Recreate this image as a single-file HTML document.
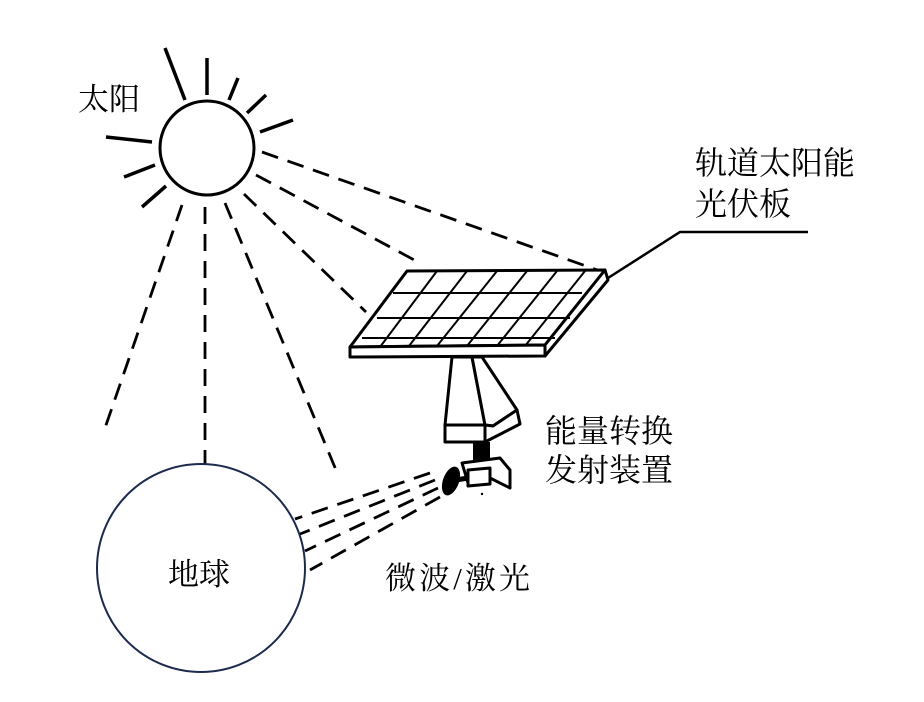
<!DOCTYPE html>
<html><head><meta charset="utf-8"><style>
body{margin:0;background:#fff;}
svg{display:block}
text{font-family:"Liberation Serif","Noto Serif CJK SC","Noto Sans CJK SC",serif;fill:#000}
</style></head><body>
<svg width="924" height="702" viewBox="0 0 924 702" xmlns="http://www.w3.org/2000/svg">
<g stroke="#000" stroke-width="3.5" fill="none" stroke-linecap="butt">
<circle cx="207" cy="148" r="47" stroke-width="3"/>
<line x1="165" y1="48" x2="185" y2="100"/>
<line x1="207" y1="58" x2="207" y2="95"/>
<line x1="238" y1="78" x2="229" y2="100"/>
<line x1="266" y1="95" x2="247" y2="113"/>
<line x1="293" y1="120" x2="260" y2="132"/>
<line x1="106" y1="137" x2="152" y2="142"/>
<line x1="124" y1="177" x2="155" y2="165"/>
<line x1="142" y1="207" x2="166" y2="186"/>
<g stroke-dasharray="17,10" stroke-width="2.8">
<line x1="262" y1="152" x2="603" y2="272"/>
<line x1="256" y1="175" x2="418" y2="262"/>
<line x1="244" y1="194" x2="366" y2="312"/>
<line x1="225" y1="203" x2="336" y2="470"/>
<line x1="205" y1="207" x2="205" y2="465"/>
<line x1="182" y1="205" x2="105" y2="428"/>
<line x1="430" y1="473" x2="295" y2="519"/>
<line x1="435" y1="480" x2="300" y2="534"/>
<line x1="438" y1="488" x2="305" y2="551"/>
<line x1="440" y1="497" x2="310" y2="570"/>
</g>
</g>
<circle cx="201" cy="568" r="104" fill="none" stroke="#1c2a4e" stroke-width="2"/>
<g stroke="#000" fill="#fff" stroke-width="3" stroke-linejoin="round">
<polygon points="407,271 605,270 545,345 350,347"/>
<polygon points="350,347 545,345 545,356 350,357"/>
<polygon points="605,270 608,280 545,356 545,345"/>
</g>
<g stroke="#000" stroke-width="2">
<line x1="393" y1="293" x2="582" y2="293"/>
<line x1="377" y1="318" x2="570" y2="318"/>
<line x1="362" y1="338" x2="555" y2="338"/>
<line x1="437" y1="271" x2="380" y2="347"/>
<line x1="467" y1="271" x2="409" y2="346"/>
<line x1="497" y1="271" x2="437" y2="346"/>
<line x1="527" y1="271" x2="467" y2="346"/>
<line x1="557" y1="271" x2="497" y2="346"/>
<line x1="585" y1="271" x2="525" y2="346"/>
</g>
<g stroke="#000" fill="#fff" stroke-width="3" stroke-linejoin="round">
<polygon points="452,357 472,357 485,425 445,425"/>
<polygon points="472,357 482,357 517,410 493,426 485,425"/>
<polygon points="445,425 485,425 485,442 445,442"/>
<polygon points="485,425 493,426 517,410 520,424 485,442"/>
</g>
<rect x="473" y="442" width="17" height="20" fill="#000"/>
<g stroke="#000" fill="#fff" stroke-width="3" stroke-linejoin="round">
<polygon points="462,463 500,458 510,470 510,488 490,478 468,483"/>
<polygon points="468,470 490,468 490,484 468,486"/>
</g>
<line x1="450" y1="481" x2="468" y2="478" stroke="#000" stroke-width="5"/>
<ellipse cx="451" cy="481" rx="8" ry="15" transform="rotate(20 451 481)" fill="#000"/>
<circle cx="482" cy="494" r="1.2" fill="#000"/>
<polyline points="608,278 680,232 808,232" fill="none" stroke="#000" stroke-width="2.5"/>
<text x="78" y="110" font-size="31">太阳</text>
<text x="695" y="174" font-size="32">轨道太阳能</text>
<text x="695" y="215" font-size="32">光伏板</text>
<text x="545" y="442" font-size="32">能量转换</text>
<text x="545" y="481" font-size="32">发射装置</text>
<text x="385" y="589" font-size="31" textLength="145" lengthAdjust="spacing">微波/激光</text>
<text x="168" y="585" font-size="31">地球</text>
</svg>
</body></html>
